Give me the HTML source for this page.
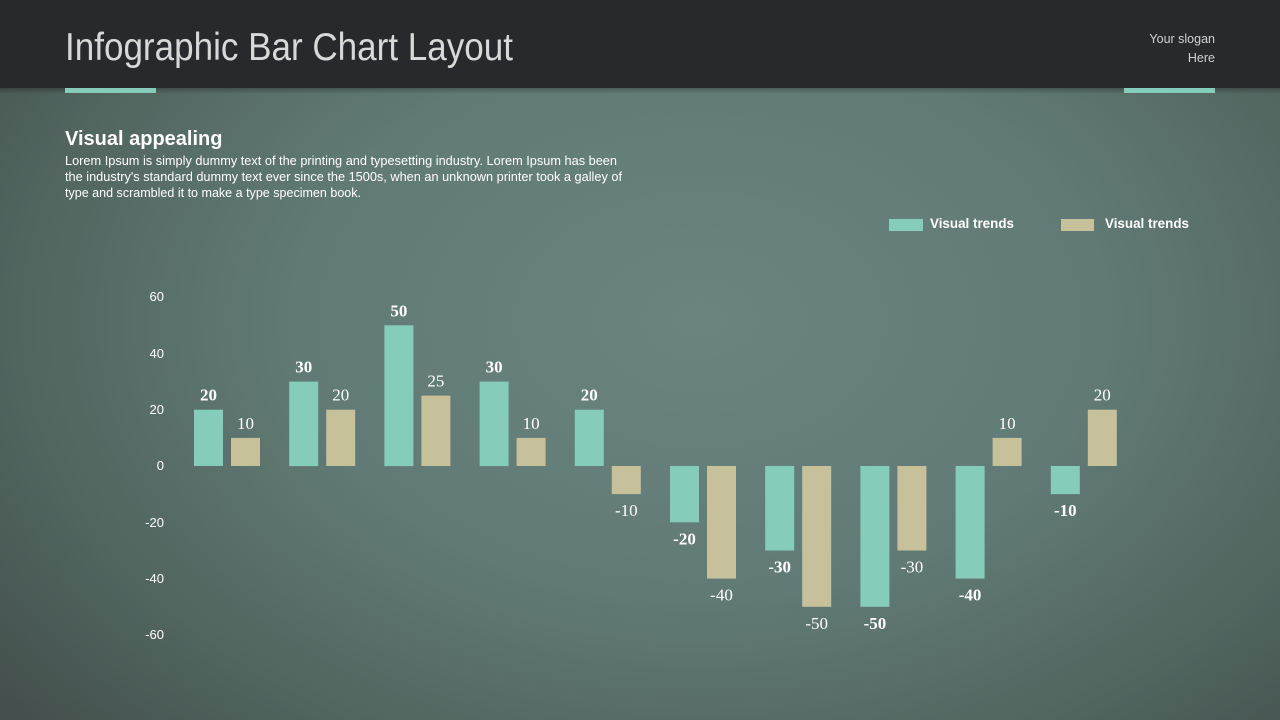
<!DOCTYPE html>
<html><head><meta charset="utf-8"><style>
html,body{margin:0;padding:0;width:1280px;height:720px;overflow:hidden;}
body{background:radial-gradient(ellipse 900px 620px at 700px 320px,#6a8480 0%,#617a75 45%,#52655f 75%,#434f4c 100%);}
svg{position:absolute;left:0;top:0;}
</style></head><body>
<svg width="1280" height="720" xmlns="http://www.w3.org/2000/svg">
<defs><linearGradient id="sh" x1="0" y1="0" x2="0" y2="1"><stop offset="0" stop-color="#000" stop-opacity="0.25"/><stop offset="1" stop-color="#000" stop-opacity="0"/></linearGradient></defs>
<rect x="0" y="88" width="1280" height="6" fill="url(#sh)"/>
<rect x="0" y="0" width="1280" height="88" fill="#28292d"/>
<rect x="65" y="88" width="91" height="5" fill="#85ccbb"/>
<rect x="1124" y="88" width="91" height="5" fill="#85ccbb"/>
<text x="65" y="60" font-family="Liberation Sans, sans-serif" font-size="39" fill="#d8d8d8" textLength="448" lengthAdjust="spacingAndGlyphs">Infographic Bar Chart Layout</text>
<text x="1215" y="43" text-anchor="end" font-family="Liberation Sans, sans-serif" font-size="12.5" fill="#d0d0d0">Your slogan</text>
<text x="1215" y="62" text-anchor="end" font-family="Liberation Sans, sans-serif" font-size="12.5" fill="#d0d0d0">Here</text>
<text x="65" y="145" font-family="Liberation Sans, sans-serif" font-size="20" font-weight="bold" fill="#ffffff">Visual appealing</text>
<g font-family="Liberation Sans, sans-serif" font-size="12.5" fill="#ffffff">
<text x="65" y="165" textLength="552" lengthAdjust="spacingAndGlyphs">Lorem Ipsum is simply dummy text of the printing and typesetting industry. Lorem Ipsum has been</text>
<text x="65" y="181" textLength="557" lengthAdjust="spacingAndGlyphs">the industry's standard dummy text ever since the 1500s, when an unknown printer took a galley of</text>
<text x="65" y="197" textLength="296" lengthAdjust="spacingAndGlyphs">type and scrambled it to make a type specimen book.</text>
</g>
<rect x="889" y="219" width="34" height="12" fill="#85ccbb"/>
<text x="930" y="228" font-family="Liberation Sans, sans-serif" font-size="13.5" font-weight="bold" fill="#fff" textLength="84" lengthAdjust="spacingAndGlyphs">Visual trends</text>
<rect x="1061" y="219" width="33" height="12" fill="#c6c19b"/>
<text x="1105" y="228" font-family="Liberation Sans, sans-serif" font-size="13.5" font-weight="bold" fill="#fff" textLength="84" lengthAdjust="spacingAndGlyphs">Visual trends</text>
<g font-family="Liberation Sans, sans-serif" font-size="13" fill="#fff" text-anchor="end">
<text x="164" y="301">60</text><text x="164" y="358">40</text><text x="164" y="414">20</text>
<text x="164" y="470">0</text><text x="164" y="527">-20</text><text x="164" y="583">-40</text><text x="164" y="639">-60</text>
</g>
<g id="bars"></g>
</svg>
<script>
var t=[20,30,50,30,20,-20,-30,-50,-40,-10],b=[10,20,25,10,-10,-40,-50,-30,10,20];
var g=document.getElementById('bars'),k=2.815,z=466,h='';
function bar(x,v,c,bold){var y=v>=0?z-v*k:z,H=Math.abs(v)*k;
h+='<rect x="'+x+'" y="'+y.toFixed(1)+'" width="29" height="'+H.toFixed(1)+'" fill="'+c+'"/>';
var ty=v>=0?z-v*k-9:z-v*k+22;
h+='<text x="'+(x+14.5)+'" y="'+ty.toFixed(1)+'" text-anchor="middle" font-family="Liberation Serif, serif" font-size="17" fill="#fff"'+(bold?' font-weight="bold"':'')+'>'+v+'</text>';}
for(var i=0;i<10;i++){var x=194+95.2*i;bar(x,t[i],'#85ccbb',true);bar(x+37,b[i],'#c6c19b',false);}
g.innerHTML=h;
</script>
</body></html>
